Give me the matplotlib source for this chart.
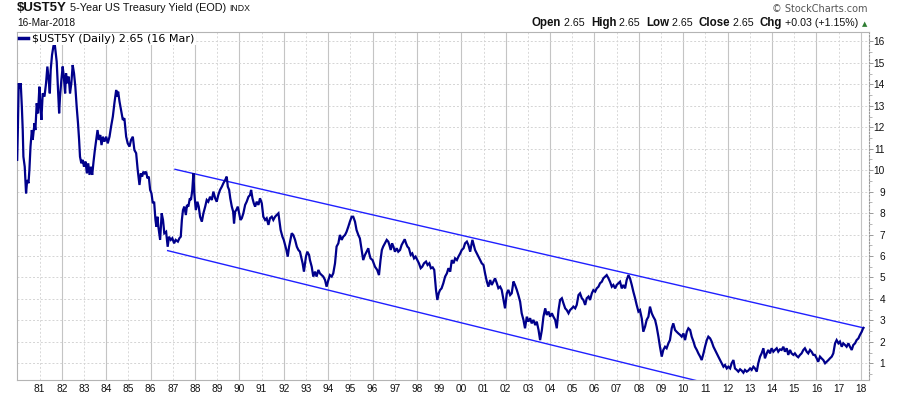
import matplotlib
matplotlib.use("Agg")
import matplotlib.pyplot as plt
from matplotlib.offsetbox import TextArea, HPacker, AnchoredOffsetbox
from matplotlib.ticker import MultipleLocator

# daily close (fractional year, yield %)
years = [
    1979.99, 1980.02, 1980.06, 1980.12, 1980.15, 1980.20, 1980.24, 1980.27, 1980.33, 1980.39,
    1980.44, 1980.50, 1980.54, 1980.59, 1980.65, 1980.69, 1980.77, 1980.81, 1980.87, 1980.93,
    1980.99, 1981.04, 1981.08, 1981.14, 1981.22, 1981.29, 1981.35, 1981.41, 1981.46, 1981.50,
    1981.56, 1981.62, 1981.67, 1981.73, 1981.77, 1981.83, 1981.88, 1981.92, 1981.98, 1982.04,
    1982.09, 1982.15, 1982.19, 1982.25, 1982.31, 1982.37, 1982.43, 1982.49, 1982.55, 1982.61,
    1982.67, 1982.73, 1982.78, 1982.82, 1982.88, 1982.94, 1983.00, 1983.07, 1983.13, 1983.19,
    1983.25, 1983.31, 1983.37, 1983.43, 1983.49, 1983.55, 1983.61, 1983.67, 1983.73, 1983.79,
    1983.85, 1983.92, 1984.00, 1984.07, 1984.15, 1984.22, 1984.30, 1984.37, 1984.45, 1984.49,
    1984.54, 1984.60, 1984.67, 1984.75, 1984.82, 1984.90, 1984.97, 1985.05, 1985.12, 1985.20,
    1985.27, 1985.35, 1985.42, 1985.50, 1985.56, 1985.62, 1985.68, 1985.74, 1985.80, 1985.86,
    1985.92, 1985.98, 1986.04, 1986.10, 1986.16, 1986.22, 1986.26, 1986.31,
    1986.35, 1986.43, 1986.50, 1986.56, 1986.62, 1986.70, 1986.77, 1986.83, 1986.91, 1986.98,
    1987.06, 1987.13, 1987.23, 1987.30, 1987.36, 1987.41, 1987.46, 1987.52, 1987.59, 1987.64,
    1987.70, 1987.77, 1987.82, 1987.88, 1987.93, 1987.97, 1988.04, 1988.11, 1988.17, 1988.23,
    1988.31, 1988.38, 1988.46, 1988.53, 1988.60, 1988.68, 1988.76, 1988.83, 1988.91, 1988.98,
    1989.05, 1989.13, 1989.21, 1989.28, 1989.36, 1989.43, 1989.48, 1989.54, 1989.59, 1989.66,
    1989.72, 1989.76, 1989.81, 1989.86, 1989.93, 1989.99, 1990.05, 1990.11, 1990.18, 1990.26,
    1990.33, 1990.41, 1990.48, 1990.53, 1990.59, 1990.65, 1990.71, 1990.78, 1990.86, 1990.93,
    1991.01, 1991.08, 1991.16, 1991.23, 1991.31, 1991.38, 1991.46, 1991.53, 1991.61, 1991.68,
    1991.76, 1991.80, 1991.86, 1991.94, 1992.00, 1992.06, 1992.12, 1992.18, 1992.24, 1992.30,
    1992.36, 1992.43, 1992.51, 1992.59, 1992.66,
    1992.73, 1992.85, 1992.91, 1993.00, 1993.06, 1993.14, 1993.18, 1993.26, 1993.33, 1993.41,
    1993.48, 1993.56, 1993.63, 1993.71, 1993.78, 1993.86, 1993.93, 1994.01, 1994.08, 1994.16,
    1994.23, 1994.31, 1994.38, 1994.46, 1994.53, 1994.61, 1994.68, 1994.76, 1994.83, 1994.91,
    1994.98, 1995.06, 1995.13, 1995.21, 1995.28, 1995.36, 1995.43, 1995.51, 1995.58, 1995.66,
    1995.73, 1995.81, 1995.85, 1995.91, 1996.00, 1996.11, 1996.21, 1996.29, 1996.36, 1996.42,
    1996.48, 1996.56, 1996.64, 1996.71, 1996.76, 1996.82, 1996.88, 1996.94, 1997.01, 1997.09,
    1997.16, 1997.24, 1997.31, 1997.39, 1997.45, 1997.51, 1997.57, 1997.64, 1997.72, 1997.79,
    1997.87, 1997.94, 1998.02, 1998.09, 1998.17, 1998.24, 1998.32, 1998.41, 1998.48, 1998.56,
    1998.63, 1998.71, 1998.78, 1998.86, 1998.92, 1998.98, 1999.04, 1999.11, 1999.19,
    1999.27, 1999.35, 1999.42, 1999.50, 1999.57, 1999.65, 1999.72, 1999.80, 1999.87, 1999.95,
    2000.02, 2000.10, 2000.17, 2000.25, 2000.32, 2000.40, 2000.44, 2000.50, 2000.56, 2000.62,
    2000.70, 2000.77, 2000.85, 2000.92, 2001.00, 2001.07, 2001.15, 2001.22, 2001.30, 2001.37,
    2001.45, 2001.52, 2001.60, 2001.67, 2001.75, 2001.82, 2001.90, 2001.97, 2002.05, 2002.12,
    2002.20, 2002.27, 2002.35, 2002.42, 2002.50, 2002.57, 2002.65, 2002.72, 2002.80, 2002.87,
    2002.95, 2003.02, 2003.10, 2003.17, 2003.25, 2003.33, 2003.40, 2003.48, 2003.55, 2003.63,
    2003.70, 2003.78, 2003.85, 2003.93, 2004.00, 2004.08, 2004.15, 2004.23, 2004.30, 2004.38,
    2004.45, 2004.53, 2004.60, 2004.68, 2004.75, 2004.83, 2004.90, 2004.98, 2005.05, 2005.13,
    2005.20, 2005.28, 2005.35, 2005.43, 2005.50, 2005.58, 2005.65, 2005.73,
    2005.80, 2005.88, 2005.95, 2006.03, 2006.10, 2006.18, 2006.25, 2006.33, 2006.40, 2006.48,
    2006.55, 2006.63, 2006.70, 2006.78, 2006.85, 2006.93, 2007.00, 2007.08, 2007.15, 2007.23,
    2007.30, 2007.38, 2007.45, 2007.53, 2007.60, 2007.68, 2007.75, 2007.83, 2007.90, 2007.98,
    2008.05, 2008.13, 2008.20, 2008.28, 2008.35, 2008.43, 2008.50, 2008.58, 2008.65, 2008.73,
    2008.80, 2008.88, 2008.95, 2009.03, 2009.10, 2009.18, 2009.25, 2009.33, 2009.40, 2009.48,
    2009.55, 2009.63, 2009.70, 2009.78, 2009.86, 2009.93, 2010.01, 2010.08, 2010.16, 2010.23,
    2010.31, 2010.38, 2010.46, 2010.53, 2010.61, 2010.68, 2010.76, 2010.83, 2010.91, 2010.98,
    2011.06, 2011.13, 2011.21, 2011.28, 2011.36, 2011.43, 2011.51, 2011.58, 2011.66, 2011.73,
    2011.81, 2011.88, 2011.96, 2012.03, 2012.11, 2012.18, 2012.26,
    2012.33, 2012.41, 2012.48, 2012.56, 2012.63, 2012.71, 2012.78, 2012.86, 2012.93, 2013.01,
    2013.08, 2013.16, 2013.23, 2013.31, 2013.38, 2013.46, 2013.53, 2013.61, 2013.68, 2013.76,
    2013.83, 2013.91, 2013.98, 2014.06, 2014.13, 2014.21, 2014.28, 2014.36, 2014.43, 2014.51,
    2014.58, 2014.66, 2014.73, 2014.81, 2014.88, 2014.96, 2015.03, 2015.11, 2015.18, 2015.26,
    2015.33, 2015.41, 2015.48, 2015.56, 2015.63, 2015.71, 2015.78, 2015.86, 2015.93, 2016.01,
    2016.08, 2016.16, 2016.23, 2016.31, 2016.39, 2016.46, 2016.54, 2016.61, 2016.69, 2016.76,
    2016.84, 2016.91, 2016.99, 2017.06, 2017.14, 2017.21, 2017.29, 2017.36, 2017.44, 2017.51,
    2017.59, 2017.66, 2017.74, 2017.81, 2017.89, 2017.96, 2018.04, 2018.09, 2018.12,
]
yields = [
    10.48, 11.87, 14.05, 13.82, 14.05, 12.96, 11.87, 10.63, 10.16, 8.92,
    9.54, 9.39, 10.01, 11.10, 11.87, 11.41, 12.19, 11.87, 13.12, 12.65,
    13.89, 12.96, 12.34, 13.58, 13.43, 14.05, 14.83, 14.20, 13.58, 14.67,
    15.37, 15.76, 15.99, 15.45, 15.06, 13.74, 12.65, 13.43, 14.20, 14.83,
    14.36, 13.58, 14.52, 14.05, 14.36, 13.58, 14.05, 14.90, 14.52, 13.89,
    12.96, 12.19, 11.41, 10.63, 10.32, 10.48, 10.16, 10.40, 9.85, 10.32,
    9.78, 10.16, 9.78, 10.40, 10.94, 11.41, 11.87, 11.41, 11.64, 11.17,
    11.56, 11.33, 11.56, 11.25, 11.56, 12.03, 12.50, 13.12, 13.74, 13.43,
    13.66, 13.20, 12.81, 12.34, 12.42, 11.56, 11.25, 11.10, 11.41, 11.56,
    10.94, 10.79, 10.01, 9.31, 9.85, 9.70, 9.93, 9.85, 9.93, 9.62,
    9.70, 9.08, 8.92, 8.46, 8.53, 7.68, 7.37, 7.83,
    7.37, 6.75, 7.99, 7.68, 7.06, 7.13, 6.43, 6.90, 6.75, 6.83,
    6.59, 6.75, 6.67, 6.83, 6.90, 7.68, 8.14, 8.30, 7.91, 8.38,
    8.30, 8.69, 8.61, 9.08, 9.86, 8.92, 8.14, 8.53, 8.30, 7.83,
    7.60, 7.99, 8.30, 8.61, 8.53, 8.76, 8.61, 9.00, 8.69, 8.53,
    8.84, 9.08, 9.23, 9.39, 9.54, 9.70, 9.23, 9.08, 8.69, 8.30,
    8.07, 7.52, 8.07, 8.14, 8.30, 7.99, 7.68, 7.76, 7.99, 8.38,
    8.53, 8.76, 8.84, 9.08, 8.69, 8.46, 8.30, 8.53, 8.38, 8.69,
    8.46, 7.83, 7.68, 7.76, 7.45, 7.76, 7.83, 7.68, 7.83, 7.91,
    7.99, 7.68, 7.21, 6.90, 6.75, 6.51, 6.28, 5.97, 6.43, 6.75,
    7.06, 6.98, 6.75, 6.43, 6.28,
    6.20, 5.66, 5.27, 5.97, 6.20, 6.05, 5.81, 5.50, 5.04, 5.27,
    5.04, 5.35, 5.19, 5.11, 5.04, 4.88, 4.57, 4.88, 5.11, 5.04,
    5.19, 5.66, 6.44, 6.59, 6.98, 6.75, 6.90, 6.98, 7.13, 7.37,
    7.60, 7.83, 7.83, 7.60, 7.21, 6.98, 6.82, 6.28, 5.81, 6.05,
    6.20, 6.36, 6.12, 5.89, 5.81, 5.50, 5.35, 5.11, 5.81, 6.28,
    6.44, 6.59, 6.75, 6.67, 6.51, 6.28, 6.59, 6.44, 6.20, 6.36,
    6.20, 6.28, 6.51, 6.67, 6.78, 6.59, 6.44, 6.36, 6.05, 6.12,
    5.89, 5.97, 5.81, 5.66, 5.43, 5.50, 5.66, 5.74, 5.58, 5.66,
    5.43, 5.47, 5.35, 4.41, 3.95, 4.26, 4.41, 4.49, 4.73,
    5.04, 5.19, 5.43, 5.27, 5.81, 5.66, 5.89, 5.81, 5.97, 6.12,
    6.28, 6.36, 6.59, 6.67, 6.51, 6.20, 6.44, 6.75, 6.51, 6.28,
    6.12, 5.97, 5.81, 5.66, 5.58, 5.19, 4.81, 4.57, 4.88, 4.65,
    4.81, 4.96, 4.73, 4.50, 4.57, 4.42, 3.95, 3.56, 4.26, 4.42,
    4.18, 4.26, 4.81, 4.65, 4.42, 4.18, 3.87, 3.33, 3.02, 2.63,
    3.17, 2.94, 3.10, 2.86, 3.02, 2.78, 2.94, 2.55, 2.08, 2.55,
    3.17, 3.56, 3.25, 3.41, 3.17, 3.33, 3.17, 3.02, 2.63, 3.48,
    3.95, 4.03, 3.80, 3.56, 3.48, 3.33, 3.48, 3.56, 3.64, 3.56,
    3.72, 4.18, 4.26, 4.03, 3.95, 3.72, 4.03, 4.11,
    3.95, 4.26, 4.41, 4.34, 4.49, 4.57, 4.73, 4.80, 4.96, 5.04,
    5.11, 4.96, 4.80, 4.57, 4.65, 4.49, 4.65, 4.73, 4.80, 4.49,
    4.65, 4.49, 4.88, 5.11, 4.96, 4.65, 4.34, 4.03, 3.72, 3.41,
    3.48, 3.09, 2.47, 2.71, 3.02, 3.17, 3.64, 3.33, 3.17, 3.02,
    2.71, 2.24, 1.77, 1.31, 1.62, 1.77, 1.70, 1.93, 2.08, 2.63,
    2.86, 2.55, 2.47, 2.39, 2.32, 2.24, 2.39, 2.08, 2.47, 2.63,
    2.55, 2.24, 2.01, 1.77, 1.62, 1.46, 1.31, 1.15, 1.46, 1.77,
    2.08, 2.24, 2.16, 2.01, 1.77, 1.62, 1.46, 1.31, 1.15, 1.00,
    0.84, 0.92, 0.76, 0.84, 0.76, 1.00, 1.15,
    0.76, 0.69, 0.61, 0.72, 0.66, 0.56, 0.69, 0.61, 0.66, 0.76,
    0.69, 0.84, 0.76, 0.61, 1.00, 1.31, 1.46, 1.70, 1.23, 1.46,
    1.62, 1.46, 1.70, 1.54, 1.62, 1.70, 1.54, 1.65, 1.62, 1.77,
    1.54, 1.70, 1.39, 1.62, 1.46, 1.39, 1.46, 1.34, 1.28, 1.39,
    1.46, 1.62, 1.70, 1.54, 1.46, 1.62, 1.54, 1.39, 1.39, 1.23,
    1.07, 1.31, 1.23, 1.15, 1.00, 1.07, 1.15, 1.23, 1.31, 1.46,
    1.93, 2.08, 1.93, 2.01, 1.77, 1.93, 1.85, 1.77, 1.93, 1.77,
    1.62, 1.85, 1.93, 2.08, 2.16, 2.32, 2.47, 2.60, 2.65,
]

# channel lines drawn on the chart
upper_x = [1987.10, 2018.12]
upper_y = [10.04, 2.65]
lower_x = [1986.77, 2010.60]
lower_y = [6.25, 0.19]

year_ticks = list(range(1981, 2019))
year_labels = [f"{y % 100:02d}" for y in year_ticks]
yield_ticks = list(range(1, 17))

NAVY = "#00008b"
CHANNEL = "#2020ff"

fig = plt.figure(figsize=(9, 3.96), dpi=100)
ax = fig.add_axes([0.0186, 0.0404, 0.9470, 0.8788])
ax.set_xlim(1979.97, 2018.37)
ax.set_ylim(0.22, 16.44)

# grid: solid on even years, dotted on odd years, dotted horizontals
for yr in year_ticks:
    if yr % 2 == 0:
        ax.axvline(yr, color="#c4c4c4", lw=0.8, zorder=0)
    else:
        ax.axvline(yr, color="#d8d8d8", lw=0.7, ls=(0, (2, 2)), zorder=0)
for v in yield_ticks:
    ax.axhline(v, color="#d4d4d4", lw=0.7, ls=(0, (2, 2)), zorder=0)

ax.plot(years, yields, color=NAVY, lw=1.6, solid_joinstyle="miter",
        label=r"\$UST5Y (Daily) 2.65 (16 Mar)", zorder=3)
ax.plot(upper_x, upper_y, color=CHANNEL, lw=1.0, zorder=2)
ax.plot(lower_x, lower_y, color=CHANNEL, lw=1.0, zorder=2)

# axes
ax.set_xticks(year_ticks, year_labels)
ax.tick_params(axis="x", length=0, pad=3, labelsize=7.3, labelcolor="#111111")
ax.yaxis.tick_right()
ax.set_yticks(yield_ticks)
ax.yaxis.set_minor_locator(MultipleLocator(0.5))
ax.tick_params(axis="y", which="major", direction="out", length=3, width=0.7,
               color="#999999", pad=8.5, labelsize=7.3, labelcolor="#111111")
ax.tick_params(axis="y", which="minor", direction="out", length=2, width=0.6,
               color="#aaaaaa")
for lab in ax.get_yticklabels():
    lab.set_horizontalalignment("right")
for lab in ax.get_xticklabels() + ax.get_yticklabels():
    lab.set_family("Liberation Sans")

for side in ["left", "top", "bottom"]:
    ax.spines[side].set_color("#b4b4b4")
    ax.spines[side].set_linewidth(0.8)
ax.spines["right"].set_color("#999999")
ax.spines["right"].set_linewidth(0.8)
ax.spines["right"].set_linestyle((0, (1.5, 1.5)))

leg = ax.legend(loc="upper left", handlelength=0.8, handletextpad=0.4,
                borderpad=0.1, borderaxespad=0.1, frameon=True, fancybox=False,
                edgecolor="none", facecolor="white", framealpha=1,
                prop={"family": "DejaVu Sans", "size": 8})
leg.get_lines()[0].set_linewidth(2.5)


def text_strip(parts, xy, loc):
    boxes = [TextArea(t, textprops=p) for t, p in parts]
    pack = HPacker(children=boxes, align="baseline", pad=0, sep=0)
    box = AnchoredOffsetbox(loc=loc, child=pack, pad=0, borderpad=0, frameon=False,
                            bbox_to_anchor=xy, bbox_transform=fig.transFigure)
    fig.add_artist(box)


bold = {"family": "Liberation Sans", "weight": "bold", "size": 8.3, "color": "#111111"}
reg = {"family": "Liberation Sans", "size": 7.7, "color": "#111111"}

text_strip([
    (r"\$UST5Y", {"family": "Liberation Sans", "weight": "bold", "size": 9.5, "color": "#111111"}),
    (" 5-Year US Treasury Yield (EOD) ", {"family": "Liberation Sans", "size": 7.8, "color": "#111111"}),
    ("INDX", {"family": "Liberation Sans", "size": 6.3, "color": "#111111"}),
], (17 / 900, 1 - 2 / 396), "upper left")

fig.text(17 / 900, 1 - 23 / 396, "16-Mar-2018", family="Liberation Sans", size=7.3,
         color="#111111", ha="left", va="center")

fig.text(868 / 900, 1 - 9 / 396, "© StockCharts.com", family="DejaVu Sans", size=7,
         color="#555555", ha="right", va="center")

text_strip([
    ("Open", bold), (" 2.65  ", reg),
    ("High", bold), (" 2.65  ", reg),
    ("Low", bold), (" 2.65  ", reg),
    ("Close", bold), (" 2.65  ", reg),
    ("Chg", bold), (" +0.03 (+1.15%) ", reg),
    ("▲", {"family": "DejaVu Sans", "size": 5, "color": "#2e7d32"}),
], (867 / 900, 1 - 23 / 396), "center right")

fig.savefig("out.png", dpi=100)
